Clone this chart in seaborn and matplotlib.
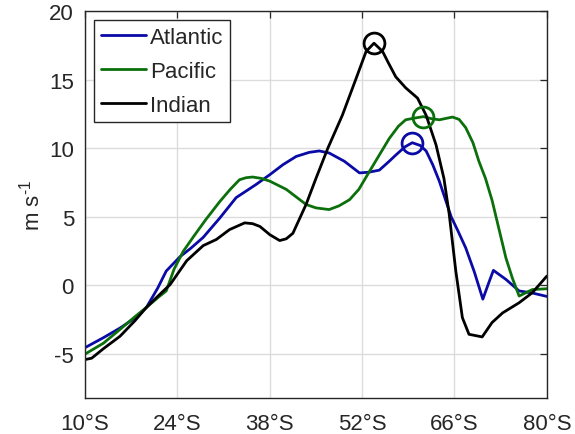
import numpy as np
import pandas as pd
import matplotlib
matplotlib.use("Agg")
import matplotlib.pyplot as plt
import seaborn as sns

# ---- data ----
atl_lat = [10, 12.8, 15.3, 17.5, 19.3, 21, 22.3, 24.4, 26, 27.9, 30.4, 32.9, 35.9, 38, 40, 42, 44,
           45.5, 47, 49.3, 51.6, 53, 54.6, 56, 57.1, 58.5, 59.6, 60.8, 61.7, 62.7, 63.7, 65.5, 66.5,
           67.7, 69, 70.3, 71.2, 71.9, 73.8, 75.8, 77.8, 80]
atl_val = [-4.53, -3.8, -3.1, -2.4, -1.6, -0.2, 1.05, 2.1, 2.7, 3.5, 4.9, 6.4, 7.35, 8.07, 8.8, 9.4, 9.7,
           9.8, 9.65, 9.05, 8.2, 8.25, 8.4, 9.0, 9.5, 10.1, 10.4, 10.2, 9.8, 8.8, 7.6, 5.0, 4.0,
           2.74, 1.0, -1.0, 0.2, 1.1, 0.44, -0.4, -0.55, -0.8]

pac_lat = [10, 12.8, 15.3, 17.5, 19.3, 21, 22.3, 23.5, 24.9, 26.5, 28.3, 30.4, 32, 33.4, 34.4, 35.4, 36.7, 38,
           40.5, 43.5, 45, 47, 48.5, 50.1, 51.5, 53.1, 54.6, 56.1, 57.5, 58.6, 60, 61.3, 62.5, 63.7,
           65, 65.7, 66.7, 67.7, 68.8, 69.7, 70.7, 71.7, 72.2, 73, 73.8, 74.8, 75.8, 77.8, 80]
pac_val = [-5.0, -4.2, -3.2, -2.3, -1.6, -0.9, -0.4, 1.2, 2.5, 3.6, 4.8, 6.1, 7.0, 7.7, 7.85, 7.9, 7.8, 7.6,
           7.0, 5.9, 5.65, 5.53, 5.8, 6.25, 7.0, 8.3, 9.5, 10.7, 11.6, 12.07, 12.2, 12.3, 12.15, 12.07,
           12.2, 12.27, 12.1, 11.5, 10.4, 9.05, 7.8, 6.2, 5.2, 3.6, 2.0, 0.5, -0.77, -0.3, -0.24]

ind_lat = [10, 11, 12.8, 15.3, 17.5, 19.3, 21, 22.9, 25.4, 27.9, 29.9, 31.9, 34.2, 35.4, 36.5, 38, 39.5,
           40.5, 41.5, 43.5, 45, 46.8, 49.0, 51.1, 52.6, 53.8, 55.1, 56, 57.1, 58.6, 60.4, 61.7, 63.2,
           64.4, 65.2, 66.2, 67.2, 68.2, 70.2, 71.7, 73.3, 75.8, 77.8, 80]
ind_val = [-5.4, -5.3, -4.6, -3.7, -2.6, -1.6, -0.8, 0.07, 1.8, 2.9, 3.35, 4.07, 4.56, 4.5, 4.3, 3.7, 3.27,
           3.4, 3.8, 5.9, 7.8, 10.0, 12.4, 15.1, 17.05, 17.65, 17.05, 16.2, 15.2, 14.4, 13.65, 12.4, 10.25,
           7.8, 5.2, 1.05, -2.35, -3.56, -3.75, -2.7, -2.0, -1.26, -0.53, 0.68]

series_names = ["Atlantic", "Pacific", "Indian"]
peak_lat = [59.6, 61.3, 53.8]
peak_val = [10.4, 12.3, 17.65]

xtick_vals = [10, 24, 38, 52, 66, 80]
xtick_labels = ["10°S", "24°S", "38°S", "52°S", "66°S", "80°S"]
ytick_vals = [-5, 0, 5, 10, 15, 20]

colors = {"Atlantic": "#0a0aa6", "Pacific": "#0b700b", "Indian": "#000000"}

df = pd.concat([
    pd.DataFrame({"lat": atl_lat, "val": atl_val, "ocean": "Atlantic"}),
    pd.DataFrame({"lat": pac_lat, "val": pac_val, "ocean": "Pacific"}),
    pd.DataFrame({"lat": ind_lat, "val": ind_val, "ocean": "Indian"}),
], ignore_index=True)
peaks = pd.DataFrame({"lat": peak_lat, "val": peak_val, "ocean": series_names})

sns.set_style("white")
plt.rcParams["font.family"] = ["Liberation Sans", "DejaVu Sans"]
plt.rcParams["axes.unicode_minus"] = False
plt.rcParams["mathtext.fontset"] = "custom"
plt.rcParams["mathtext.rm"] = "Liberation Sans"
plt.rcParams["mathtext.it"] = "Liberation Sans"

fig = plt.figure(figsize=(5.75, 4.35), dpi=100)
ax = fig.add_axes([0.148, 0.0828, 0.803, 0.8897])

sns.lineplot(data=df, x="lat", y="val", hue="ocean", hue_order=series_names,
             palette=colors, linewidth=2.0, sort=False, ax=ax, estimator=None)
for name in series_names:
    sub = peaks[peaks["ocean"] == name]
    ax.plot(sub["lat"], sub["val"], linestyle="none", marker="o", markersize=15,
            markerfacecolor="none", markeredgecolor=colors[name], markeredgewidth=2.0)

ax.set_xlim(10, 80)
ax.set_ylim(-8.2, 20)
ax.set_xticks(xtick_vals)
ax.set_xticklabels(xtick_labels)
ax.set_yticks(ytick_vals)
ax.grid(True, color="#dcdcdc", linewidth=1.0)
ax.set_axisbelow(True)
ax.tick_params(direction="in", length=5, width=0.9, colors="#262626", labelsize=16,
               top=True, right=True)
ax.tick_params(axis="x", pad=11)
ax.tick_params(axis="y", pad=8)
for sp in ax.spines.values():
    sp.set_visible(True)
    sp.set_color("#262626")
    sp.set_linewidth(1.0)
ax.set_xlabel("")
ax.set_ylabel("m s$^{\\mathregular{‐1}}$", fontsize=16, color="#262626", labelpad=3)

leg = ax.legend(loc="upper left", fontsize=16, frameon=True, fancybox=False,
                framealpha=1, edgecolor="#262626", handlelength=2.0, handletextpad=0.2,
                borderpad=0.3, labelspacing=0.58, borderaxespad=0.42)
leg.get_frame().set_linewidth(1.0)
for line in leg.get_lines():
    line.set_linewidth(2.0)

fig.savefig("out.png", dpi=100)
